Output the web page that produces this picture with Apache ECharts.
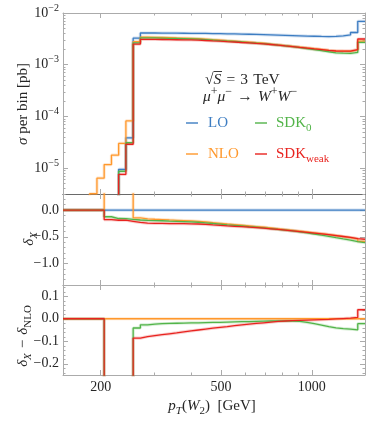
<!DOCTYPE html>
<html><head><meta charset="utf-8">
<script src="https://cdn.jsdelivr.net/npm/echarts@6/dist/echarts.min.js"></script>
<style>html,body{margin:0;padding:0;background:#fff}#c{width:381px;height:428px}</style>
</head><body><div id="c"></div>
<script>
// ---------------- DATA ----------------
// bin edges in p_T(W2) [GeV]
const binEdges = [150, 155.8, 164.6, 174.0, 183.8, 194.3, 205.3, 217.0, 229.3, 242.3, 256.1, 270.6, 286.0, 302.2, 319.4, 337.5, 356.7, 377.0, 398.4, 421.0, 444.9, 470.2, 496.9, 525.1, 554.9, 586.4, 619.7, 654.9, 692.1, 731.4, 773.0, 816.9, 863.3, 912.3, 964.1, 1018.9, 1076.8, 1138.0, 1202.6, 1270.9, 1343.1, 1419.4, 1500];

// sigma per bin [pb]  (null = empty bin)
const sigmaLO = [null,null,null,null,null,null,null,null,9.5e-6,3.85e-5,3.26e-3,4.10e-3,4.10e-3,4.09e-3,4.08e-3,4.07e-3,4.06e-3,4.05e-3,4.04e-3,4.02e-3,4.00e-3,3.98e-3,3.96e-3,3.94e-3,3.91e-3,3.88e-3,3.85e-3,3.82e-3,3.78e-3,3.74e-3,3.70e-3,3.66e-3,3.62e-3,3.58e-3,3.55e-3,3.52e-3,3.50e-3,3.52e-3,3.62e-3,3.76e-3,4.20e-3,6.90e-3];
const sigmaNLO = [null,null,null,null,3.2e-6,6.4e-6,1.17e-5,1.78e-5,3.0e-5,8.2e-5,2.79e-3,3.42e-3,3.39e-3,3.36e-3,3.33e-3,3.29e-3,3.26e-3,3.23e-3,3.19e-3,3.13e-3,3.06e-3,3.00e-3,2.93e-3,2.87e-3,2.80e-3,2.73e-3,2.66e-3,2.60e-3,2.51e-3,2.43e-3,2.35e-3,2.27e-3,2.19e-3,2.11e-3,2.04e-3,1.97e-3,1.90e-3,1.85e-3,1.83e-3,1.82e-3,1.93e-3,2.86e-3];
const sigmaSDK0 = [null,null,null,null,null,null,null,null,8.7e-6,3.1e-5,2.65e-3,3.31e-3,3.30e-3,3.27e-3,3.24e-3,3.21e-3,3.18e-3,3.15e-3,3.12e-3,3.06e-3,3.00e-3,2.93e-3,2.87e-3,2.81e-3,2.75e-3,2.68e-3,2.62e-3,2.56e-3,2.48e-3,2.39e-3,2.32e-3,2.23e-3,2.15e-3,2.05e-3,1.96e-3,1.87e-3,1.78e-3,1.70e-3,1.67e-3,1.65e-3,1.73e-3,2.71e-3];
const sigmaSDKweak = [null,null,null,null,null,null,null,null,7.6e-6,2.9e-5,2.51e-3,3.10e-3,3.09e-3,3.07e-3,3.05e-3,3.04e-3,3.02e-3,3.01e-3,2.99e-3,2.94e-3,2.89e-3,2.85e-3,2.79e-3,2.75e-3,2.69e-3,2.64e-3,2.58e-3,2.53e-3,2.46e-3,2.39e-3,2.31e-3,2.24e-3,2.16e-3,2.09e-3,2.02e-3,1.96e-3,1.89e-3,1.84e-3,1.83e-3,1.83e-3,1.96e-3,3.14e-3];

// delta_X (9 = far above the panel)
const deltaLO = [0,0,0,0,0,0,0,0,0,0,0,0,0,0,0,0,0,0,0,0,0,0,0,0,0,0,0,0,0,0,0,0,0,0,0,0,0,0,0,0,0,0];
const deltaNLO = [0,0,0,0,0,0,9,9,9,9,-0.145,-0.165,-0.172,-0.178,-0.185,-0.191,-0.197,-0.203,-0.210,-0.222,-0.235,-0.247,-0.260,-0.272,-0.284,-0.296,-0.308,-0.320,-0.335,-0.350,-0.365,-0.380,-0.395,-0.410,-0.425,-0.440,-0.457,-0.475,-0.495,-0.515,-0.540,-0.585];
const deltaSDK0 = [0,0,0,0,0,0,-0.125,-0.158,-0.160,-0.175,-0.186,-0.192,-0.196,-0.200,-0.206,-0.211,-0.216,-0.221,-0.228,-0.239,-0.251,-0.263,-0.275,-0.286,-0.297,-0.309,-0.320,-0.331,-0.345,-0.360,-0.374,-0.390,-0.407,-0.426,-0.447,-0.468,-0.492,-0.516,-0.539,-0.561,-0.589,-0.607];
const deltaSDKweak = [0,0,0,0,0,0,-0.177,-0.190,-0.190,-0.210,-0.231,-0.244,-0.247,-0.249,-0.252,-0.254,-0.255,-0.257,-0.260,-0.268,-0.277,-0.285,-0.295,-0.303,-0.311,-0.320,-0.329,-0.338,-0.350,-0.362,-0.375,-0.388,-0.402,-0.416,-0.430,-0.444,-0.460,-0.476,-0.494,-0.512,-0.534,-0.545];

// delta_X - delta_NLO (-9 = far below the panel)
const diffNLO = [0,0,0,0,0,0,0,0,0,0,0,0,0,0,0,0,0,0,0,0,0,0,0,0,0,0,0,0,0,0,0,0,0,0,0,0,0,0,0,0,0,0];
const diffSDK0 = [0,0,0,0,0,0,-9,-9,-9,-9,-0.041,-0.027,-0.024,-0.022,-0.021,-0.020,-0.019,-0.018,-0.018,-0.017,-0.016,-0.016,-0.015,-0.014,-0.013,-0.013,-0.012,-0.011,-0.010,-0.010,-0.009,-0.010,-0.012,-0.016,-0.022,-0.028,-0.035,-0.041,-0.044,-0.046,-0.049,-0.022];
const diffSDKweak = [0,0,0,0,0,0,-9,-9,-9,-9,-0.086,-0.079,-0.075,-0.071,-0.067,-0.063,-0.058,-0.054,-0.050,-0.046,-0.042,-0.038,-0.035,-0.031,-0.027,-0.024,-0.021,-0.018,-0.015,-0.012,-0.010,-0.008,-0.007,-0.006,-0.005,-0.004,-0.003,-0.001,0.001,0.003,0.006,0.040];

// ticks
const xMajorTicks = [200, 500, 1000];
const xMinorTicks = [300, 400, 600, 700, 800, 900];
const yTopMajor = [1e-5, 1e-4, 1e-3, 1e-2];
const yTopMinor = [4e-6,5e-6,6e-6,7e-6,8e-6,9e-6,2e-5,3e-5,4e-5,5e-5,6e-5,7e-5,8e-5,9e-5,2e-4,3e-4,4e-4,5e-4,6e-4,7e-4,8e-4,9e-4,2e-3,3e-3,4e-3,5e-3,6e-3,7e-3,8e-3,9e-3];
const yMidMajor = [-1.0, -0.5, 0.0];
const yMidMinor = [-1.4,-1.3,-1.2,-1.1,-0.9,-0.8,-0.7,-0.6,-0.4,-0.3,-0.2,-0.1,0.1,0.2,0.3];
const yBotMajor = [-0.2, -0.1, 0.0, 0.1];
const yBotMinor = [-0.24,-0.22,-0.18,-0.16,-0.14,-0.12,-0.08,-0.06,-0.04,-0.02,0.02,0.04,0.06,0.08,0.12,0.14];

// ---------------- STYLE ----------------
const FONT = '"Liberation Serif", "DejaVu Serif", serif';
const COL = {LO:'#3d7dc2', NLO:'#ff982c', SDK0:'#52b449', SDKw:'#e8231f'};
const FRAME = '#ababab';
const DARK = '#6a6a6a';
const TXT = '#262626';

const grids = [
  {left:63, top:13, width:302, height:181},
  {left:63, top:194, width:302, height:91},
  {left:63, top:285, width:302, height:90}
];

function fmtNum(v, d){ return (v < 0 ? '\u2212' : '') + Math.abs(v).toFixed(d); }

function xAxis(gi, pos, vals, len, showLabel, lineShow, lineColor){
  return {type:'log', logBase:10, gridIndex:gi, min:150, max:1500, position:pos,
    axisLine:{show:lineShow, onZero:false, lineStyle:{color:lineColor, width:1}},
    axisTick:{show:true, inside:true, length:len, customValues:vals, lineStyle:{color:FRAME, width:1}},
    axisLabel:{show:showLabel, customValues:vals, margin:5, color:TXT, fontFamily:FONT, fontSize:14,
      formatter:v=>String(Math.round(v))},
    splitLine:{show:false}, minorTick:{show:false}, minorSplitLine:{show:false}};
}
function yAxis(gi, pos, type, min, max, vals, len, showLabel, lineShow, formatter, rich){
  const a = {type:type, gridIndex:gi, min:min, max:max, position:pos,
    axisLine:{show:lineShow, onZero:false, lineStyle:{color:FRAME, width:1}},
    axisTick:{show:true, inside:true, length:len, customValues:vals, lineStyle:{color:FRAME, width:1}},
    axisLabel:{show:showLabel, customValues:vals, margin:4, color:TXT, fontFamily:FONT, fontSize:14, formatter:formatter, rich:rich},
    splitLine:{show:false}, minorTick:{show:false}, minorSplitLine:{show:false}};
  if (type === 'log') a.logBase = 10;
  return a;
}

const xAxes = [];
const yAxes = [];
const expRich = {
  b:{fontFamily:FONT, fontSize:14, color:TXT, lineHeight:20},
  s:{fontFamily:FONT, fontSize:10, color:TXT, lineHeight:10, verticalAlign:'top'}
};
const expFmt = v => '{b|10}{s|\u2212' + Math.abs(Math.round(Math.log10(v))) + '}';
const yCfg = [
  {type:'log', min:Math.pow(10,-5.5), max:1e-2, major:yTopMajor, minor:yTopMinor, fmt:expFmt, rich:expRich},
  {type:'value', min:-1.4, max:0.3, major:yMidMajor, minor:yMidMinor, fmt:v=>fmtNum(v,1)},
  {type:'value', min:-0.25, max:0.15, major:yBotMajor, minor:yBotMinor, fmt:v=>fmtNum(v,1)}
];
for (let g = 0; g < 3; g++) {
  const botColor = g === 0 ? DARK : FRAME;
  const topColor = g === 1 ? DARK : FRAME;
  xAxes.push(xAxis(g,'bottom',xMajorTicks,5,g===2,true,botColor));
  xAxes.push(xAxis(g,'bottom',xMinorTicks,2.5,false,false,botColor));
  xAxes.push(xAxis(g,'top',xMajorTicks,5,false,true,topColor));
  xAxes.push(xAxis(g,'top',xMinorTicks,2.5,false,false,topColor));
  const c = yCfg[g];
  yAxes.push(yAxis(g,'left',c.type,c.min,c.max,c.major,5,true,true,c.fmt,c.rich));
  yAxes.push(yAxis(g,'left',c.type,c.min,c.max,c.minor,2.5,false,false));
  yAxes.push(yAxis(g,'right',c.type,c.min,c.max,c.major,5,false,true));
  yAxes.push(yAxis(g,'right',c.type,c.min,c.max,c.minor,2.5,false,false));
}

function stepPoints(vals, emptyValue){
  const pts = [];
  for (let i = 0; i < vals.length; i++) {
    const v = vals[i] == null ? emptyValue : vals[i];
    pts.push([binEdges[i], v], [binEdges[i+1], v]);
  }
  return pts;
}
const series = [];
function addHist(gi, vals, color, emptyValue){
  const data = stepPoints(vals, emptyValue);
  series.push({type:'line', xAxisIndex:gi*4, yAxisIndex:gi*4, data:data, symbol:'none', showSymbol:false, clip:true, silent:true,
    lineStyle:{color:color, width:3.2, opacity:0.22}, z:2});
  series.push({type:'line', xAxisIndex:gi*4, yAxisIndex:gi*4, data:data, symbol:'none', showSymbol:false, clip:true, silent:true,
    lineStyle:{color:color, width:1.3}, z:3});
}
addHist(0, sigmaLO, COL.LO, 1e-9);
addHist(0, sigmaNLO, COL.NLO, 1e-9);
addHist(0, sigmaSDK0, COL.SDK0, 1e-9);
addHist(0, sigmaSDKweak, COL.SDKw, 1e-9);
addHist(1, deltaLO, COL.LO, 0);
addHist(1, deltaNLO, COL.NLO, 0);
addHist(1, deltaSDK0, COL.SDK0, 0);
addHist(1, deltaSDKweak, COL.SDKw, 0);
addHist(2, diffNLO, COL.NLO, 0);
addHist(2, diffSDK0, COL.SDK0, 0);
addHist(2, diffSDKweak, COL.SDKw, 0);

// ---------------- TEXT ----------------
function rich(size, color){
  const base = {fontFamily:FONT, fill:color, color:color};
  const small = Math.round(size*0.7);
  return {
    n: Object.assign({fontSize:size, lineHeight:size+6}, base),
    i: Object.assign({fontSize:size, fontStyle:'italic', lineHeight:size+6}, base),
    sub: Object.assign({fontSize:small, lineHeight:small, verticalAlign:'bottom'}, base),
    isub: Object.assign({fontSize:small, fontStyle:'italic', lineHeight:small, verticalAlign:'bottom'}, base),
    sup: Object.assign({fontSize:Math.round(size*0.75), lineHeight:Math.round(size*0.75), verticalAlign:'top'}, base)
  };
}
function txt(x, y, text, size, color, align, rot){
  return {type:'text', x:x, y:y, rotation:rot||0, silent:true, z:50,
    style:{text:text, fontFamily:FONT, fontSize:size, fill:color, align:align||'left', verticalAlign:'middle', rich:rich(size,color)}};
}
function dash(x1, x2, y, color){
  return {type:'line', silent:true, z:50, shape:{x1:x1, y1:y, x2:x2, y2:y}, style:{stroke:color, lineWidth:1.4}};
}
const graphics = [
  txt(23, 104, '{i|\u03c3}{n| per bin [pb]}', 15, TXT, 'center', Math.PI/2),
  txt(29, 239, '{i|\u03b4}{isub|X}', 15, TXT, 'center', Math.PI/2),
  txt(23, 336, '{i|\u03b4}{isub|X}{n|\u2004\u2212\u2004}{i|\u03b4}{sub|NLO}', 15, TXT, 'center', Math.PI/2),
  txt(212, 406, '{i|p}{isub|T}{n|(}{i|W}{sub|2}{n|)\u2002[GeV]}', 15, TXT, 'center'),
  txt(205, 80, '{n|\u221a}{i|S}{n|\u2004=\u20043\u2004TeV}', 15.5, TXT, 'left'),
  {type:'line', silent:true, z:50, shape:{x1:213.5, y1:71.5, x2:222, y2:71.5}, style:{stroke:TXT, lineWidth:0.9}},
  txt(203, 97, '{i|\u03bc}{sup|+}{i|\u03bc}{sup|\u2212}{n|\u2004\u2192\u2004}{i|W}{sup|+}{i|W}{sup|\u2212}', 15.5, TXT, 'left'),
  dash(186, 198, 123, COL.LO), txt(208, 123, '{n|LO}', 15, COL.LO, 'left'),
  dash(255, 267, 123, COL.SDK0), txt(276, 123, '{n|SDK}{sub|0}', 15, COL.SDK0, 'left'),
  dash(186, 198, 154, COL.NLO), txt(208, 154, '{n|NLO}', 15, COL.NLO, 'left'),
  dash(255, 267, 154, COL.SDKw), txt(276, 154, '{n|SDK}{sub|weak}', 15, COL.SDKw, 'left')
];

const chart = echarts.init(document.getElementById('c'), null, {renderer:'canvas'});
chart.setOption({
  animation:false,
  backgroundColor:'#ffffff',
  textStyle:{fontFamily:FONT},
  grid:grids,
  xAxis:xAxes,
  yAxis:yAxes,
  series:series,
  graphic:graphics
});
</script>
</body></html>
